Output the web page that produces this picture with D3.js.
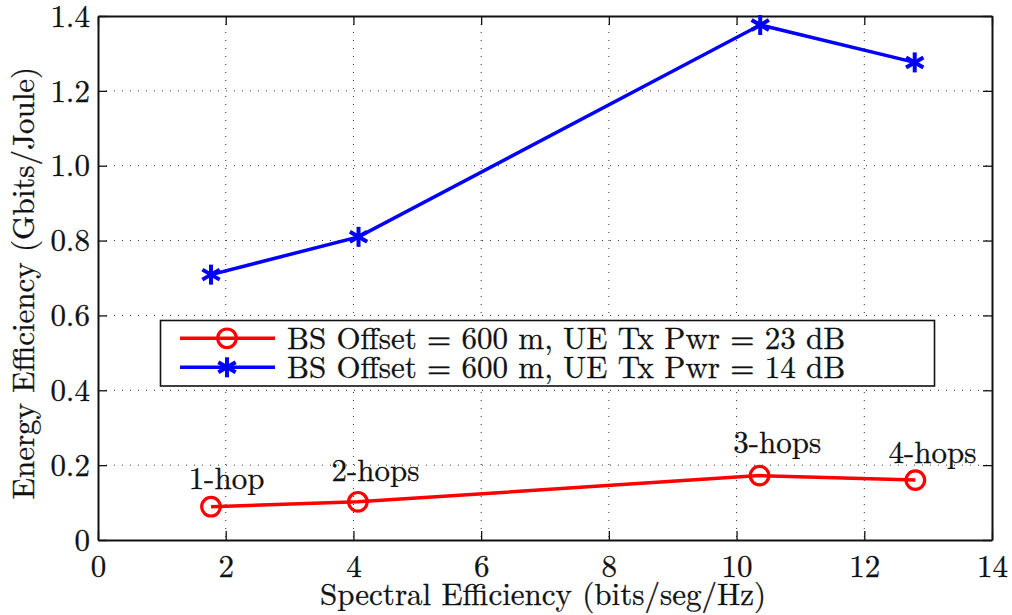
<!DOCTYPE html>
<html>
<head>
<meta charset="utf-8">
<script src="https://cdn.jsdelivr.net/npm/d3@7"></script>
<style>
  html, body { margin: 0; padding: 0; background: #fff; }
</style>
</head>
<body>
<svg id="chart" width="1012" height="615"></svg>
<script>
// Spectral efficiency (x) and energy efficiency (y) for each relay configuration
const spectralEff23 = [1.77, 4.07, 10.36, 12.80];
const energyEff23   = [0.089, 0.102, 0.172, 0.160];
const spectralEff14 = [1.77, 4.08, 10.37, 12.79];
const energyEff14   = [0.709, 0.810, 1.376, 1.276];
const hopLabels = ["1-hop", "2-hops", "3-hops", "4-hops"];
const seriesNames = [
  "BS Offset = 600 m, UE Tx Pwr = 23 dB",
  "BS Offset = 600 m, UE Tx Pwr = 14 dB"
];
const xTicks = [0, 2, 4, 6, 8, 10, 12, 14];
const yTicks = [0, 0.2, 0.4, 0.6, 0.8, 1.0, 1.2, 1.4];
const xTickLabels = ["0", "2", "4", "6", "8", "10", "12", "14"];
const yTickLabels = ["0", "0.2", "0.4", "0.6", "0.8", "1.0", "1.2", "1.4"];

const FONT = "'Latin Modern Roman', 'CMU Serif', 'DejaVu Serif', serif";
const FS = 31;

const svg = d3.select("#chart");
const m = { left: 98, right: 992, top: 16, bottom: 540 };

const x = d3.scaleLinear().domain([0, 14]).range([m.left, m.right]);
const y = d3.scaleLinear().domain([0, 1.4]).range([m.bottom, m.top]);

// dotted grid
const grid = svg.append("g");
grid.selectAll(".gx").data(xTicks.slice(1, -1)).join("line")
  .attr("x1", d => x(d)).attr("x2", d => x(d))
  .attr("y1", m.top).attr("y2", m.bottom)
  .attr("stroke", "#333").attr("stroke-width", 1).attr("stroke-dasharray", "1,7");
grid.selectAll(".gy").data(yTicks.slice(1, -1)).join("line")
  .attr("x1", m.left).attr("x2", m.right)
  .attr("y1", d => y(d)).attr("y2", d => y(d))
  .attr("stroke", "#333").attr("stroke-width", 1).attr("stroke-dasharray", "1,7");

// axes with inward ticks on all four sides
const tickLen = 9;
const axB = svg.append("g").attr("transform", `translate(0,${m.bottom})`)
  .call(d3.axisBottom(x).tickValues(xTicks).tickSizeInner(-tickLen).tickSizeOuter(0)
    .tickFormat((d, i) => xTickLabels[i]).tickPadding(15));
const axT = svg.append("g").attr("transform", `translate(0,${m.top})`)
  .call(d3.axisTop(x).tickValues(xTicks).tickSizeInner(-tickLen).tickSizeOuter(0).tickFormat(""));
const axL = svg.append("g").attr("transform", `translate(${m.left},0)`)
  .call(d3.axisLeft(y).tickValues(yTicks).tickSizeInner(-tickLen).tickSizeOuter(0)
    .tickFormat((d, i) => yTickLabels[i]).tickPadding(8));
const axR = svg.append("g").attr("transform", `translate(${m.right},0)`)
  .call(d3.axisRight(y).tickValues(yTicks).tickSizeInner(-tickLen).tickSizeOuter(0).tickFormat(""));

function txt(sel) {
  return sel.style("font-family", FONT).style("font-size", FS + "px")
    .attr("fill", "#111").attr("stroke", "#111").attr("stroke-width", 0.3);
}

[axB, axT, axL, axR].forEach(a => {
  a.select(".domain").attr("stroke", "#111").attr("stroke-width", 2);
  a.selectAll(".tick line").attr("stroke", "#111").attr("stroke-width", 1.3);
  txt(a.selectAll("text"));
});
axB.selectAll("text").attr("dy", "0.71em");
axL.selectAll("text").attr("dy", "0.33em");

// axis titles
txt(svg.append("text"))
  .attr("x", 543).attr("y", 605)
  .attr("text-anchor", "middle")
  .text("Spectral Efficiency (bits/seg/Hz)");
txt(svg.append("text"))
  .attr("transform", "translate(34,283) rotate(-90)")
  .attr("text-anchor", "middle")
  .text("Energy Efficiency (Gbits/Joule)");

const line = d3.line().x(d => x(d[0])).y(d => y(d[1]));
const red = "#ff0000", blue = "#0000ff";
const pts23 = spectralEff23.map((v, i) => [v, energyEff23[i]]);
const pts14 = spectralEff14.map((v, i) => [v, energyEff14[i]]);

const plot = svg.append("g");
plot.append("path").datum(pts14).attr("d", line)
  .attr("fill", "none").attr("stroke", blue).attr("stroke-width", 3.5);
plot.append("path").datum(pts23).attr("d", line)
  .attr("fill", "none").attr("stroke", red).attr("stroke-width", 3.5);

function circleMarker(g, cx, cy) {
  g.append("circle").attr("cx", cx).attr("cy", cy).attr("r", 9.3)
    .attr("fill", "none").attr("stroke", red).attr("stroke-width", 3.2);
}
function starMarker(g, cx, cy) {
  const r = 10;
  [0, 60, 120].forEach(a => {
    const t = a * Math.PI / 180;
    g.append("line")
      .attr("x1", cx - r * Math.sin(t)).attr("y1", cy - r * Math.cos(t))
      .attr("x2", cx + r * Math.sin(t)).attr("y2", cy + r * Math.cos(t))
      .attr("stroke", blue).attr("stroke-width", 4);
  });
}
pts23.forEach(d => circleMarker(plot, x(d[0]), y(d[1])));
pts14.forEach(d => starMarker(plot, x(d[0]), y(d[1])));

// hop annotations above the 23 dB curve
const hopOffsets = [[15.5, -18], [17.6, -21], [17.7, -22.7], [17.1, -16.7]];
txt(plot.selectAll(".hop").data(pts23).join("text"))
  .attr("x", (d, i) => x(d[0]) + hopOffsets[i][0])
  .attr("y", (d, i) => y(d[1]) + hopOffsets[i][1])
  .attr("text-anchor", "middle")
  .text((d, i) => hopLabels[i]);

// legend
const lg = svg.append("g");
lg.append("rect").attr("x", 160.5).attr("y", 320.5).attr("width", 774).attr("height", 65.5)
  .attr("fill", "#fff").attr("stroke", "#111").attr("stroke-width", 1.6);
const rows = [
  { name: seriesNames[0], color: red, mark: circleMarker, cy: 338.3 },
  { name: seriesNames[1], color: blue, mark: starMarker, cy: 367.3 }
];
rows.forEach(r => {
  lg.append("line").attr("x1", 180).attr("x2", 275).attr("y1", r.cy).attr("y2", r.cy)
    .attr("stroke", r.color).attr("stroke-width", 3.5);
  r.mark(lg, 227, r.cy);
  txt(lg.append("text")).attr("x", 287).attr("y", r.cy).attr("dy", "0.34em")
    .text(r.name);
});
</script>
</body>
</html>
